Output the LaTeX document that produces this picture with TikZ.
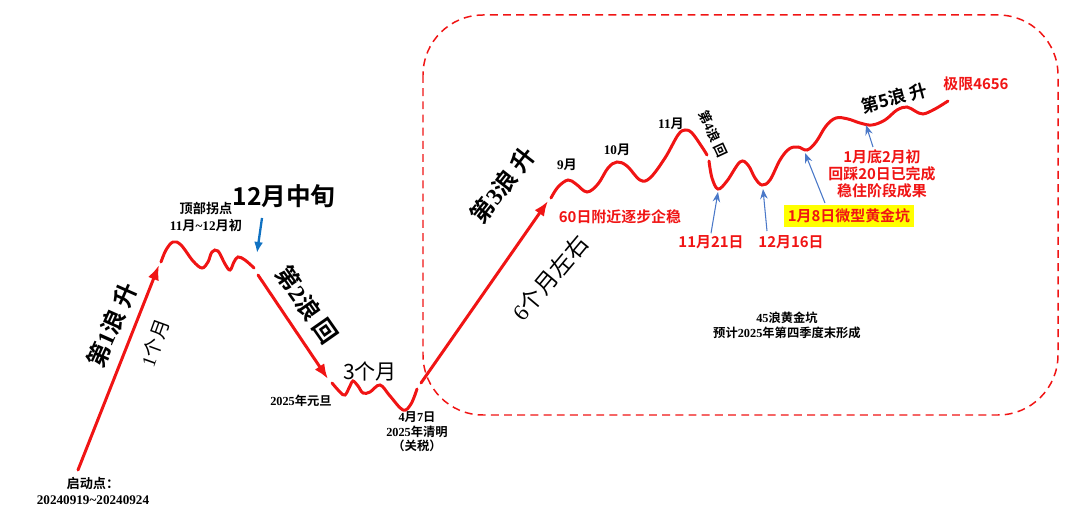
\documentclass[tikz,border=0pt]{standalone}
\usepackage{fontspec}
\setmainfont{Liberation Serif}
\newfontfamily\cjk{Noto Sans CJK SC}[BoldFont={Noto Sans CJK SC Bold}]
\newfontfamily\tms{Liberation Serif}
\usetikzlibrary{arrows.meta}
\definecolor{wave}{HTML}{F01414}
\definecolor{ptrc}{HTML}{4A78C8}
\definecolor{cue}{HTML}{1072C2}
\definecolor{hl}{HTML}{FFFF00}
\newcommand\rn[1]{{\tms\bfseries #1}}
\tikzset{
  leg/.style={draw=wave, line width=1.7pt, line cap=round},
  legto/.style={leg, -{Latex[length=3mm,width=2.3mm]}},
  ptr/.style={-{Stealth[length=2mm,width=1.5mm]}, draw=ptrc, line width=0.6pt},
  note/.style={font=\cjk\bfseries\fontsize{7.5}{9.5}\selectfont, align=center, inner sep=1pt},
  big/.style={font=\cjk\bfseries\fontsize{13.5}{15}\selectfont, inner sep=1pt},
  tag/.style={font=\cjk\bfseries\fontsize{8.5}{9.8}\selectfont, text=wave, align=center, inner sep=1pt},
  span/.style={font=\cjk\fontsize{11}{12}\selectfont, inner sep=1pt},
  zone/.style={draw=wave, line width=0.85pt, dash pattern=on 4.5pt off 3pt, rounded corners=1.2cm},
}

\begin{document}
\begin{tikzpicture}[x=0.02cm, y=-0.02cm]
  \useasboundingbox (0,0) rectangle (1080,520);
  % dashed area
  \draw[zone] (423,15) rectangle (1058,415);

  % wave path
  \coordinate (a0) at (78,470);
  \coordinate (a1) at (159,265);
  \coordinate (b0) at (258,275);
  \coordinate (b1) at (328,379);
  \coordinate (c0) at (421,383);
  \coordinate (c1) at (548,201);
  \draw[legto] (a0) -- (a1);
  \draw[leg] plot[smooth, tension=0.6] coordinates {(161,262) (166,250) (173,242) (181,245) (193,261) (202,268) (208,262) (212,252) (218,251) (225,264) (230,270) (234,262) (238,257) (245,260) (254,268)};
  \draw[legto] (b0) -- (b1);
  \draw[leg] plot[smooth, tension=0.6] coordinates {(332,383) (340,392) (345,395) (350,386) (353,381) (358,386) (363,393) (370,392) (380,385) (390,396) (403,410) (411,404) (417,389)};
  \draw[legto] (c0) -- (c1);
  \draw[leg] plot[smooth, tension=0.6] coordinates {(551,198) (558,187) (568,180) (576,184) (587,192) (598,184) (608,168) (617,162) (627,166) (640,180) (650,178) (665,158) (678,135) (685,130) (692,133) (702,147) (707,155)};
  \draw[leg] plot[smooth, tension=0.6] coordinates {(709,161) (712,178) (718,189) (727,181) (740,162) (748,165) (755,178) (762,185) (770,180) (780,160) (789,149) (798,147) (807,150) (816,142) (826,126) (836,118) (848,119) (860,123) (872,125) (885,120) (897,110) (907,107) (915,111) (923,114) (935,109) (948,101)};

  % labels, first half
  \node[note] (go) at (93,491) {启动点：\\\rn{20240919\textasciitilde20240924}};
  \node[big, rotate=66] (w1) at (112,325) {第\rn{1}浪 升};
  \node[span, rotate=70] (m1) at (155,343) {\tms 1\cjk 个月};
  \node[note] (top) at (206,217) {顶部拐点\\\rn{11}月\rn{\textasciitilde12}月初};
  \node[big, font=\cjk\bfseries\fontsize{14}{16}\selectfont] (mid12) at (284,196) {12月中旬};
  \node[big, rotate=-55] (w2) at (307,305) {第\rn{2}浪 回};
  \node[span, font=\cjk\fontsize{12}{13}\selectfont] (m3) at (370,371) {3个月};
  \node[note, font=\cjk\bfseries\fontsize{7}{8}\selectfont] (ny) at (301,401) {\rn{2025}年元旦};
  \node[note, font=\cjk\bfseries\fontsize{7}{8.2}\selectfont] (qm) at (417,432) {\rn{4}月\rn{7}日\\\rn{2025}年清明\\（关税）};

  % labels, second half
  \node[big, rotate=52] (w3) at (503,185) {第\rn{3}浪 升};
  \node[span, rotate=50, font=\cjk\fontsize{13}{14}\selectfont] (m6) at (550,278) {\tms 6\cjk 个月左右};
  \node[note] (s9) at (567,165) {\rn{9}月};
  \node[note] (s10) at (617,150) {\rn{10}月};
  \node[note] (s11) at (671,124) {\rn{11}月};
  \node[note, font=\cjk\bfseries\fontsize{7.5}{8}\selectfont, rotate=-65] (w4) at (713,134) {第\rn{4}浪 回};
  \node[tag] (ma60) at (620,217) {60日附近逐步企稳};
  \node[tag] (d1121) at (711,242) {11月21日};
  \node[tag] (d1216) at (791,242) {12月16日};
  \node[tag, fill=hl, inner sep=2pt] (pit) at (849,216) {1月8日微型黄金坑};
  \node[tag] (feb) at (882,174) {1月底2月初\\回踩20日已完成\\稳住阶段成果};
  \node[big, rotate=15, font=\cjk\bfseries\fontsize{10}{11}\selectfont] (w5) at (894,98) {第5浪 升};
  \node[tag] (lim) at (976,84) {极限4656};
  \node[note, font=\cjk\bfseries\fontsize{7}{8.6}\selectfont] (pit45) at (787,325) {\rn{45}浪黄金坑\\预计\rn{2025}年第四季度末形成};

  % pointers
  \coordinate (t12) at (262,218);
  \coordinate (h12) at (257,253);
  \draw[-{Latex[length=2.2mm,width=1.8mm]}, draw=cue, fill=cue, line width=1.3pt] (t12) -- (h12);
  \coordinate (p1121) at (718,192);
  \coordinate (p1216) at (763,189);
  \coordinate (p108) at (805,153);
  \coordinate (p201) at (866,125);
  \coordinate (f1216) at (767,231);
  \coordinate (f108) at (825,203);
  \coordinate (f201) at (873,147);
  \draw[ptr] (d1121.north) -- (p1121);
  \draw[ptr] (f1216) -- (p1216);
  \draw[ptr] (f108) -- (p108);
  \draw[ptr] (f201) -- (p201);
\end{tikzpicture}
\end{document}
